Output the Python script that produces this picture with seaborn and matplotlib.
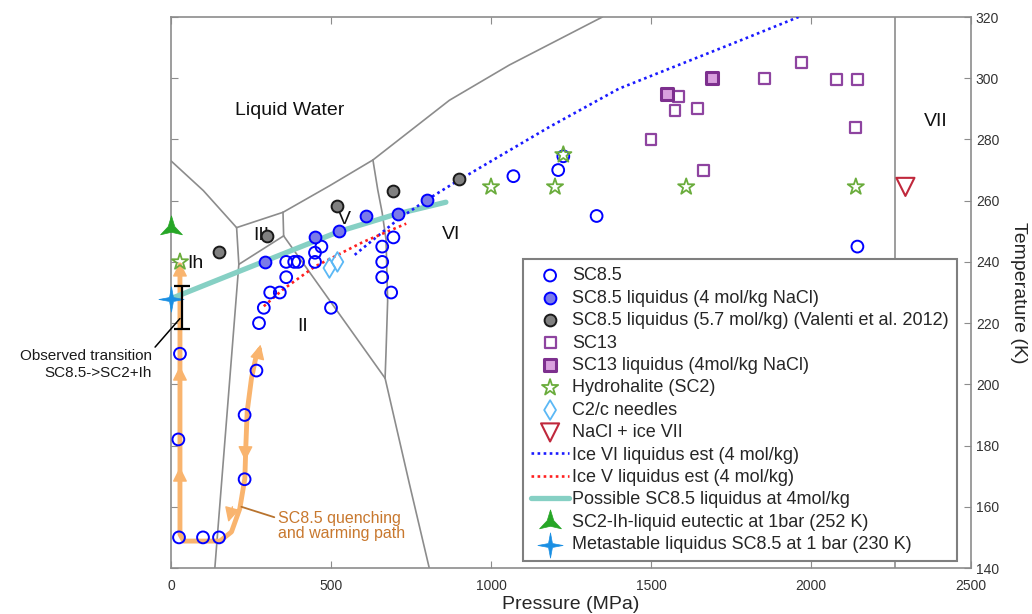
import numpy as np
import matplotlib
matplotlib.use("Agg")
import matplotlib.pyplot as plt
from matplotlib.path import Path
import seaborn as sns

# ---- data (pressure MPa, temperature K) ----
sc85_p = [28, 23, 25, 100, 150, 230, 230, 267, 275, 290, 310, 340, 360, 360, 385, 397,
          450, 450, 470, 500, 660, 660, 660, 688, 695, 1070, 1210, 1226, 1330, 2145]
sc85_t = [210, 182, 150, 150, 150, 169, 190, 204.5, 220, 225, 230, 230, 235, 240, 240, 240,
          240, 243, 245, 225, 235, 240, 245, 230, 248, 268, 270, 274.5, 255, 245]

sc85_liq_p = [295, 450, 525, 610, 710, 800]
sc85_liq_t = [240, 248, 250, 255, 255.5, 260.3]

valenti_p = [150, 300, 520, 695, 900]
valenti_t = [243.2, 248.5, 258.4, 263, 267]

sc13_p = [1500, 1585, 1575, 1645, 1665, 1855, 1970, 2080, 2145, 2140]
sc13_t = [280, 294, 289.5, 290, 270, 300, 305, 299.5, 299.5, 284]

sc13_liq_p = [1550, 1690]
sc13_liq_t = [295, 300]

hh_p = [28, 1000, 1200, 1226, 1610, 2140]
hh_t = [240, 264.5, 264.5, 275, 264.5, 264.5]

c2c_p = [495, 520]
c2c_t = [238, 240]

vii_p = [2295]
vii_t = [264.5]

eut_p, eut_t = [0], [251]
meta_p, meta_t = [0], [228]

trans_p, trans_t, trans_err = 35, 225, 7

# estimated liquidus curves
ice6_p = [574, 711, 800, 896, 1181, 1400, 1783, 1961]
ice6_t = [242.3, 254, 260.3, 266.5, 284, 296.6, 312.5, 320]
ice5_p = [290, 350, 450, 600, 735]
ice5_t = [225.5, 231, 238.5, 246.5, 252.5]
poss_p = [0, 215, 527, 700, 859]
poss_t = [228, 237, 250, 255.5, 259.5]

# quenching / warming path
path_p = [277, 267, 251.5, 238, 234, 230.7, 215, 189, 153, 100, 40, 28, 28, 28]
path_t = [211.4, 209.7, 202, 191.1, 180.2, 169.2, 159.4, 151.8, 148.8, 148.8, 148.8, 151, 200, 239]

# water ice phase boundaries
phase_lines = [
    ([0, 101, 205], [273, 263.3, 251.2]),            # L - Ih
    ([205, 350], [251.2, 256.2]),                    # L - III
    ([350, 496, 631], [256.2, 264.9, 273.3]),        # L - V
    ([631, 870, 1057, 1348], [273.3, 292.8, 304.3, 320]),  # L - VI
    ([205, 212], [251.2, 239.2]),                    # Ih - III
    ([212, 137], [239.2, 140]),                      # Ih - II
    ([212, 352], [239.2, 248.5]),                    # III - II
    ([350, 352], [256.2, 248.5]),                    # III - V
    ([352, 669], [248.5, 202]),                      # II - V
    ([631, 646, 660, 672, 677, 672, 669],
     [273.3, 263.6, 256, 247.2, 227.2, 210.8, 202]),  # V - VI
    ([669, 745, 807], [202, 167.5, 140]),            # II - VI
    ([2264, 2264], [140, 320]),                      # VI - VII
]
region_labels = [("Liquid Water", 371, 289.5), ("III", 283, 248.5), ("Ih", 75, 239.6),
                 ("V", 542, 253.9), ("VI", 875, 248.9), ("II", 412, 219), ("VII", 2390, 286)]


def star_marker(n, inner):
    ang = np.pi / 2 + np.arange(2 * n) * np.pi / n
    r = np.where(np.arange(2 * n) % 2 == 0, 1.0, inner)
    v = np.column_stack([r * np.cos(ang), r * np.sin(ang)])
    return Path(np.vstack([v, v[:1]]), closed=True)


sns.set_style("ticks")
plt.rcParams["font.family"] = ["Liberation Sans", "DejaVu Sans"]

fig = plt.figure(figsize=(10.32, 6.14), dpi=100)
ax = fig.add_axes([0.1657, 0.0749, 0.7752, 0.8974])


def curve(xs, ys, **kw):
    sns.lineplot(x=xs, y=ys, sort=False, estimator=None, ax=ax, legend=False, **kw)
    return ax.lines[-1]


def points(xs, ys, **kw):
    sns.scatterplot(x=xs, y=ys, ax=ax, legend=False, **kw)
    return ax.collections[-1]


gray = "#8c8c8c"
for px, ty in phase_lines:
    curve(px, ty, color=gray, lw=1.2, zorder=1)

orange = "#f9b46e"
curve(path_p, path_t, color=orange, lw=3.5, zorder=2)
arrows = [((28, 199), (28, 206)), ((28, 166), (28, 173)), ((28, 233), (28, 240)),
          ((233, 182), (232, 175)), ((192, 160), (179, 155)), ((272, 209.5), (280, 213))]
for (x0, y0), (x1, y1) in arrows:
    ax.annotate("", xy=(x1, y1), xytext=(x0, y0),
                arrowprops=dict(arrowstyle="-|>,head_length=0.9,head_width=0.45",
                                color=orange, lw=1, shrinkA=0, shrinkB=0), zorder=2)

h_poss = curve(poss_p, poss_t, color="#86d0c4", lw=3.8, zorder=3, clip_on=False)
h_ice6 = curve(ice6_p, ice6_t, color="#1a1aff", lw=1.9, zorder=4)
h_ice6.set_dashes((1, 1.3))
h_ice5 = curve(ice5_p, ice5_t, color="#ff2020", lw=1.9, zorder=4)
h_ice5.set_dashes((1, 1.3))

h_sc85 = points(sc85_p, sc85_t, marker="o", s=72, facecolors="none", edgecolors="#0000ff",
                linewidth=1.4, zorder=5)
h_liq = points(sc85_liq_p, sc85_liq_t, marker="o", s=72, facecolors="#7b7be8",
               edgecolors="#0000ff", linewidth=1.4, zorder=6)
h_val = points(valenti_p, valenti_t, marker="o", s=72, facecolors="#808080",
               edgecolors="#1a1a1a", linewidth=1.4, zorder=6)
h_sc13 = points(sc13_p, sc13_t, marker="s", s=62, facecolors="none", edgecolors="#8e44a0",
                linewidth=1.6, zorder=5)
h_sc13l = points(sc13_liq_p, sc13_liq_t, marker="s", s=70, facecolors="#d9a0de",
                 edgecolors="#7d2f8e", linewidth=2.2, zorder=6)
h_hh = points(hh_p, hh_t, marker="*", s=150, facecolors="none", edgecolors="#6aac3c",
              linewidth=1.3, zorder=7, clip_on=False)
h_c2c = points(c2c_p, c2c_t, marker="d", s=100, facecolors="none", edgecolors="#5bb8f5",
               linewidth=1.3, zorder=6)
h_vii = points(vii_p, vii_t, marker="v", s=170, facecolors="none", edgecolors="#c0283c",
               linewidth=1.5, zorder=6)
h_eut = points(eut_p, eut_t, marker=star_marker(3, 0.3), s=330, color="#26a626",
               edgecolors="#26a626", linewidth=0.5, zorder=8, clip_on=False)
h_meta = points(meta_p, meta_t, marker=star_marker(4, 0.22), s=330, color="#1a8fe3",
                edgecolors="#1a8fe3", linewidth=0.5, zorder=8, clip_on=False)

ax.errorbar([trans_p], [trans_t], yerr=[trans_err], fmt="none", ecolor="black",
            elinewidth=1.6, capsize=6, capthick=1.6, zorder=9)

ax.annotate("Observed transition\nSC8.5->SC2+Ih", xy=(28, 221.5), xytext=(-60, 206.5),
            ha="right", va="center", fontsize=11, color="#1a1a1a", annotation_clip=False,
            arrowprops=dict(arrowstyle="-", color="black", lw=1.1, shrinkA=0, shrinkB=0,
                            relpos=(1, 0.95)))
ax.annotate("SC8.5 quenching\nand warming path", xy=(220, 160), xytext=(333, 153.8),
            ha="left", va="center", fontsize=11.5, color="#c8782e", linespacing=1.0,
            arrowprops=dict(arrowstyle="-", color="#b8732e", lw=1.3, shrinkA=0, shrinkB=0,
                            relpos=(0, 0.75)))

for txt, px, ty in region_labels:
    ax.text(px, ty, txt, ha="center", va="center", fontsize=14, color="#111111", zorder=4)

ax.set_xlim(0, 2500)
ax.set_ylim(140, 320)
ax.set_xticks([0, 500, 1000, 1500, 2000, 2500])
ax.set_yticks(np.arange(140, 321, 20))
ax.yaxis.tick_right()
ax.yaxis.set_label_position("right")
ax.tick_params(direction="in", top=True, left=True, right=True, bottom=True,
               labelleft=False, labelright=True, labelsize=10, colors="#333333",
               length=5, width=0.8)
ax.tick_params(axis="x", pad=8)
ax.tick_params(axis="both", which="both", color="#8c8c8c")
for sp in ax.spines.values():
    sp.set_visible(True)
    sp.set_color("#8c8c8c")
    sp.set_linewidth(1.2)
ax.set_xlabel("Pressure (MPa)", fontsize=14, color="#262626", labelpad=2)
ax.set_ylabel("Temperature (K)", fontsize=14, color="#262626", rotation=-90, labelpad=20)

handles = [h_sc85, h_liq, h_val, h_sc13, h_sc13l, h_hh, h_c2c, h_vii, h_ice6, h_ice5,
           h_poss, h_eut, h_meta]
labels = ["SC8.5", "SC8.5 liquidus (4 mol/kg NaCl)",
          "SC8.5 liquidus (5.7 mol/kg) (Valenti et al. 2012)", "SC13",
          "SC13 liquidus (4mol/kg NaCl)", "Hydrohalite (SC2)", "C2/c needles",
          "NaCl + ice VII", "Ice VI liquidus est (4 mol/kg)", "Ice V liquidus est (4 mol/kg)",
          "Possible SC8.5 liquidus at 4mol/kg", "SC2-Ih-liquid eutectic at 1bar (252 K)",
          "Metastable liquidus SC8.5 at 1 bar (230 K)"]
leg = ax.legend(handles, labels, loc="lower left", bbox_to_anchor=(0.44, 0.012),
                fontsize=13, frameon=True, fancybox=False, framealpha=1,
                edgecolor="#7f7f7f", labelspacing=0.3, handlelength=2.1,
                handletextpad=0.15, borderpad=0.45, scatterpoints=1, borderaxespad=0)
leg.get_frame().set_linewidth(1.5)
leg.set_zorder(20)

fig.savefig("out.png", dpi=100)
